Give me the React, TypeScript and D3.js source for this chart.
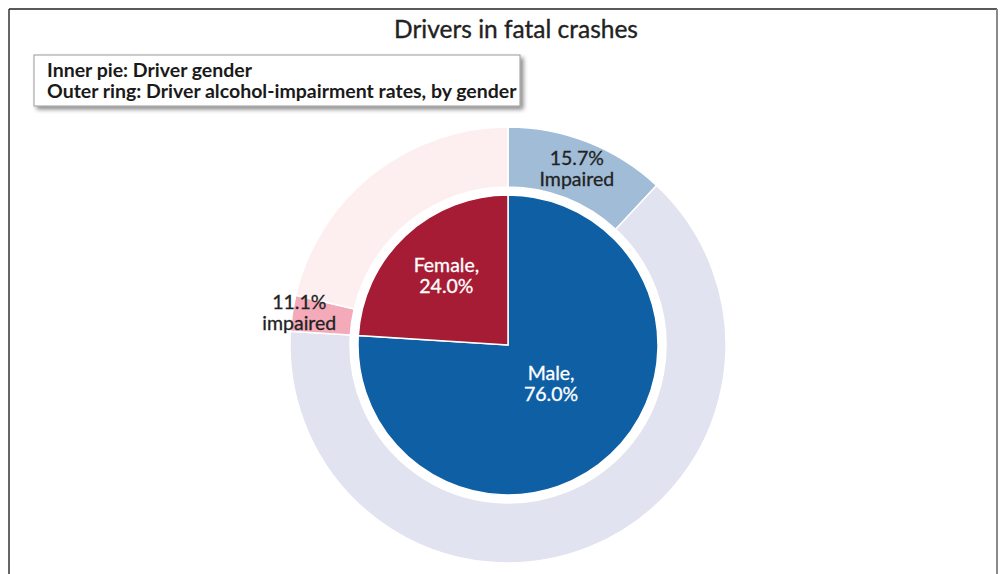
import React, { useEffect, useRef } from "react";
import * as d3 from "d3";

// Inner pie: driver gender shares (%)
const genders = ["Male", "Female"];
const genderShare = [76.0, 24.0];
const genderColors = ["#0f5fa5", "#a61c34"];

// Outer ring: alcohol-impairment rate within each gender (%)
const impairedRate = [15.7, 11.1];
const impairedLabels = ["Impaired", "impaired"];
const ringColors = [
  ["#a0bcd6", "#e1e4f0"],
  ["#f4aab8", "#fdeef0"],
];

const title = "Drivers in fatal crashes";
const legendLines = [
  "Inner pie: Driver gender",
  "Outer ring: Driver alcohol-impairment rates, by gender",
];

const W = 1003;
const H = 574;
const FONT = "Lato, 'Open Sans', sans-serif";

const App: React.FC = () => {
  const ref = useRef<SVGSVGElement>(null);

  useEffect(() => {
    if (!ref.current) return;
    const svg = d3.select(ref.current);
    svg.selectAll("*").remove();

    const cx = 508;
    const cy = 345;
    const pieR = 150;
    const ringInner = 158;
    const ringOuter = 218;

    // frame
    svg
      .append("line")
      .attr("x1", 9).attr("y1", 9).attr("x2", 997).attr("y2", 9)
      .attr("stroke", "#222").attr("stroke-width", 1.5);
    svg
      .append("line")
      .attr("x1", 9).attr("y1", 9).attr("x2", 9).attr("y2", H)
      .attr("stroke", "#333").attr("stroke-width", 1.5);
    svg
      .append("line")
      .attr("x1", 997).attr("y1", 9).attr("x2", 997).attr("y2", H)
      .attr("stroke", "#8a8a8a").attr("stroke-width", 2);

    // title
    svg
      .append("text")
      .attr("x", 516)
      .attr("y", 38)
      .attr("text-anchor", "middle")
      .style("font-family", FONT)
      .style("font-size", "24.5px")
      .attr("fill", "#222")
      .attr("stroke", "#222")
      .attr("stroke-width", 0.35)
      .text(title);

    // legend box with shadow
    const defs = svg.append("defs");
    const f = defs
      .append("filter")
      .attr("id", "shadow")
      .attr("x", "-10%").attr("y", "-20%")
      .attr("width", "120%").attr("height", "150%");
    f.append("feDropShadow")
      .attr("dx", 3).attr("dy", 3).attr("stdDeviation", 2)
      .attr("flood-color", "#000").attr("flood-opacity", 0.45);

    svg
      .append("rect")
      .attr("x", 34).attr("y", 55)
      .attr("width", 486).attr("height", 51)
      .attr("fill", "#fff")
      .attr("stroke", "#999")
      .attr("stroke-width", 1)
      .attr("filter", "url(#shadow)");

    svg
      .selectAll("text.legend")
      .data(legendLines)
      .enter()
      .append("text")
      .attr("class", "legend")
      .attr("x", 47)
      .attr("y", (d, i) => 77 + i * 21)
      .style("font-family", FONT)
      .style("font-size", "19.5px")
      .style("font-weight", "bold")
      .attr("fill", "#1a1a1a")
      .text((d) => d);

    const g = svg.append("g").attr("transform", `translate(${cx},${cy})`);

    // inner pie
    const pie = d3.pie<number>().sort(null).value((d) => d);
    const inner = pie(genderShare);
    const pieArc = d3.arc<d3.PieArcDatum<number>>().innerRadius(0).outerRadius(pieR);

    g.selectAll("path.inner")
      .data(inner)
      .enter()
      .append("path")
      .attr("d", pieArc)
      .attr("fill", (d, i) => genderColors[i])
      .attr("stroke", "#fff")
      .attr("stroke-width", 1.5);

    // outer ring: each gender split into impaired / not impaired
    const ringData = genderShare.flatMap((s, i) => [
      { value: (s * impairedRate[i]) / 100, color: ringColors[i][0], gi: i, imp: true },
      { value: (s * (100 - impairedRate[i])) / 100, color: ringColors[i][1], gi: i, imp: false },
    ]);
    const ringPie = d3
      .pie<(typeof ringData)[number]>()
      .sort(null)
      .value((d) => d.value);
    const outer = ringPie(ringData);
    const ringArc = d3
      .arc<d3.PieArcDatum<(typeof ringData)[number]>>()
      .innerRadius(ringInner)
      .outerRadius(ringOuter);

    g.selectAll("path.outer")
      .data(outer)
      .enter()
      .append("path")
      .attr("d", ringArc)
      .attr("fill", (d) => d.data.color)
      .attr("stroke", "#fff")
      .attr("stroke-width", 1.5);

    // labels for inner pie
    const innerLabelR = [0.4, 0.6];
    inner.forEach((d, i) => {
      const a = (d.startAngle + d.endAngle) / 2;
      const r = pieR * innerLabelR[i];
      const x = Math.sin(a) * r + (i === 0 ? 2 : 0);
      const y = -Math.cos(a) * r;
      const t = g
        .append("text")
        .attr("text-anchor", "middle")
        .style("font-family", FONT)
        .style("font-size", "19.5px")
        .attr("fill", "#fff")
        .attr("stroke", "#fff")
        .attr("stroke-width", 0.3);
      const dy = i === 0 ? -9 : -7;
      t.append("tspan").attr("x", x).attr("y", y + dy).text(`${genders[i]},`);
      t.append("tspan").attr("x", x).attr("y", y + dy + 21).text(`${genderShare[i].toFixed(1)}%`);
    });

    // labels for impaired segments
    const outerLabelR = [188, 211];
    outer
      .filter((d) => d.data.imp)
      .forEach((d) => {
        const i = d.data.gi;
        const a = (d.startAngle + d.endAngle) / 2;
        const r = outerLabelR[i];
        const x = Math.sin(a) * r;
        const y = -Math.cos(a) * r;
        const t = g
          .append("text")
          .attr("text-anchor", "middle")
          .style("font-family", FONT)
          .style("font-size", "19.5px")
          .attr("fill", "#222")
          .attr("stroke", "#222")
          .attr("stroke-width", 0.3);
        t.append("tspan").attr("x", x).attr("y", y - 5).text(`${impairedRate[i].toFixed(1)}%`);
        t.append("tspan").attr("x", x).attr("y", y + 16).text(impairedLabels[i]);
      });
  }, []);

  return <svg ref={ref} width={W} height={H} style={{ display: "block", position: "absolute", left: 0, top: 0 }} />;
};

export default App;
